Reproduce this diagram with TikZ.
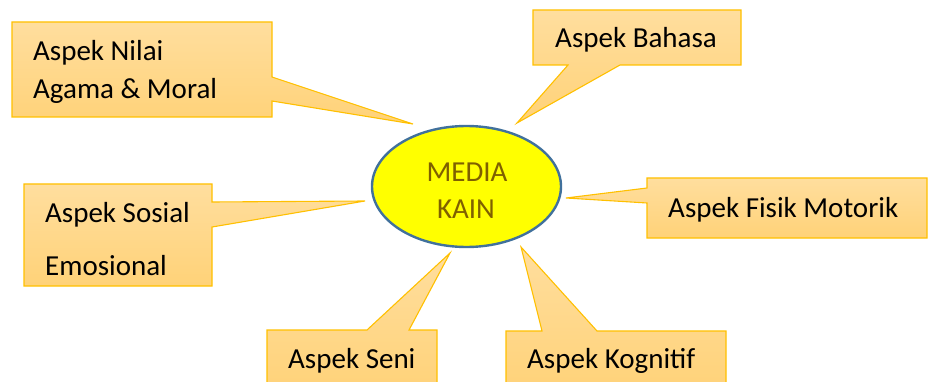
\documentclass[tikz,border=0pt]{standalone}
\usepackage{fontspec}
\setmainfont{Carlito}
\usetikzlibrary{shapes.geometric}
\definecolor{calloutedge}{HTML}{FFC000}
\definecolor{callouttop}{HTML}{FFDE9E}
\definecolor{calloutbottom}{HTML}{FFD278}
\definecolor{hubfill}{HTML}{FFFF00}
\definecolor{hubedge}{HTML}{41719C}
\definecolor{hubtext}{HTML}{7F6000}
\tikzset{
  callout/.style={draw=calloutedge, line width=1.1pt, line join=miter,
    top color=callouttop, bottom color=calloutbottom},
  label/.style={inner sep=0pt, anchor=base west, text=black,
    font=\fontsize{29}{34}\selectfont},
  hub/.style={ellipse, draw=hubedge, line width=2.4pt, fill=hubfill,
    minimum width=189pt, minimum height=121pt, inner sep=0pt},
  hublabel/.style={inner sep=0pt, anchor=base, text=hubtext,
    font=\fontsize{29}{34}\selectfont}
}
\begin{document}
\begin{tikzpicture}[x=1pt, y=-1pt]
  \useasboundingbox (0,0) rectangle (928,382);
  \clip (0,0) rectangle (928,382);

  % pointer tips of the callouts
  \coordinate (tipNilai)    at (413,124);
  \coordinate (tipBahasa)   at (517,123);
  \coordinate (tipSosial)   at (365,201);
  \coordinate (tipFisik)    at (566,198);
  \coordinate (tipSeni)     at (450,253);
  \coordinate (tipKognitif) at (521,247);

  % callout boxes with their wedge pointers
  \draw[callout] (12,22) -- (272,22) -- (272,77) -- (tipNilai) -- (272,101)
    -- (272,117) -- (12,117) -- cycle;
  \draw[callout] (533,10) -- (741,10) -- (741,65) -- (620,65) -- (tipBahasa)
    -- (568,65) -- (533,65) -- cycle;
  \draw[callout] (24,184) -- (212,184) -- (212,202) -- (tipSosial) -- (212,227)
    -- (212,286) -- (24,286) -- cycle;
  \draw[callout] (647,178) -- (927,178) -- (927,238) -- (647,238) -- (647,203)
    -- (tipFisik) -- (647,188) -- cycle;
  \draw[callout] (267,330) -- (367,330) -- (tipSeni) -- (409,330) -- (437,330)
    -- (437,395) -- (267,395) -- cycle;
  \draw[callout] (506,331) -- (542,331) -- (tipKognitif) -- (597,331)
    -- (726,331) -- (726,395) -- (506,395) -- cycle;

  % callout texts
  \node[label] (nilaiA)   at (33,61)  {Aspek Nilai};
  \node[label] (nilaiB)   at (33,99)  {Agama \& Moral};
  \node[label] (bahasa)   at (555,48) {Aspek Bahasa};
  \node[label] (sosialA)  at (45,222) {Aspek Sosial};
  \node[label] (sosialB)  at (45,275) {Emosional};
  \node[label] (fisik)    at (668,217) {Aspek Fisik Motorik};
  \node[label] (seni)     at (288,368) {Aspek Seni};
  \node[label] (kognitif) at (527,368) {Aspek Kognitif};

  % central ellipse
  \node[hub] (media) at (466.5,186.5) {};
  \node[hublabel] (mediaA) at (467,182) {MEDIA};
  \node[hublabel] (mediaB) at (466,218) {KAIN};
\end{tikzpicture}
\end{document}
